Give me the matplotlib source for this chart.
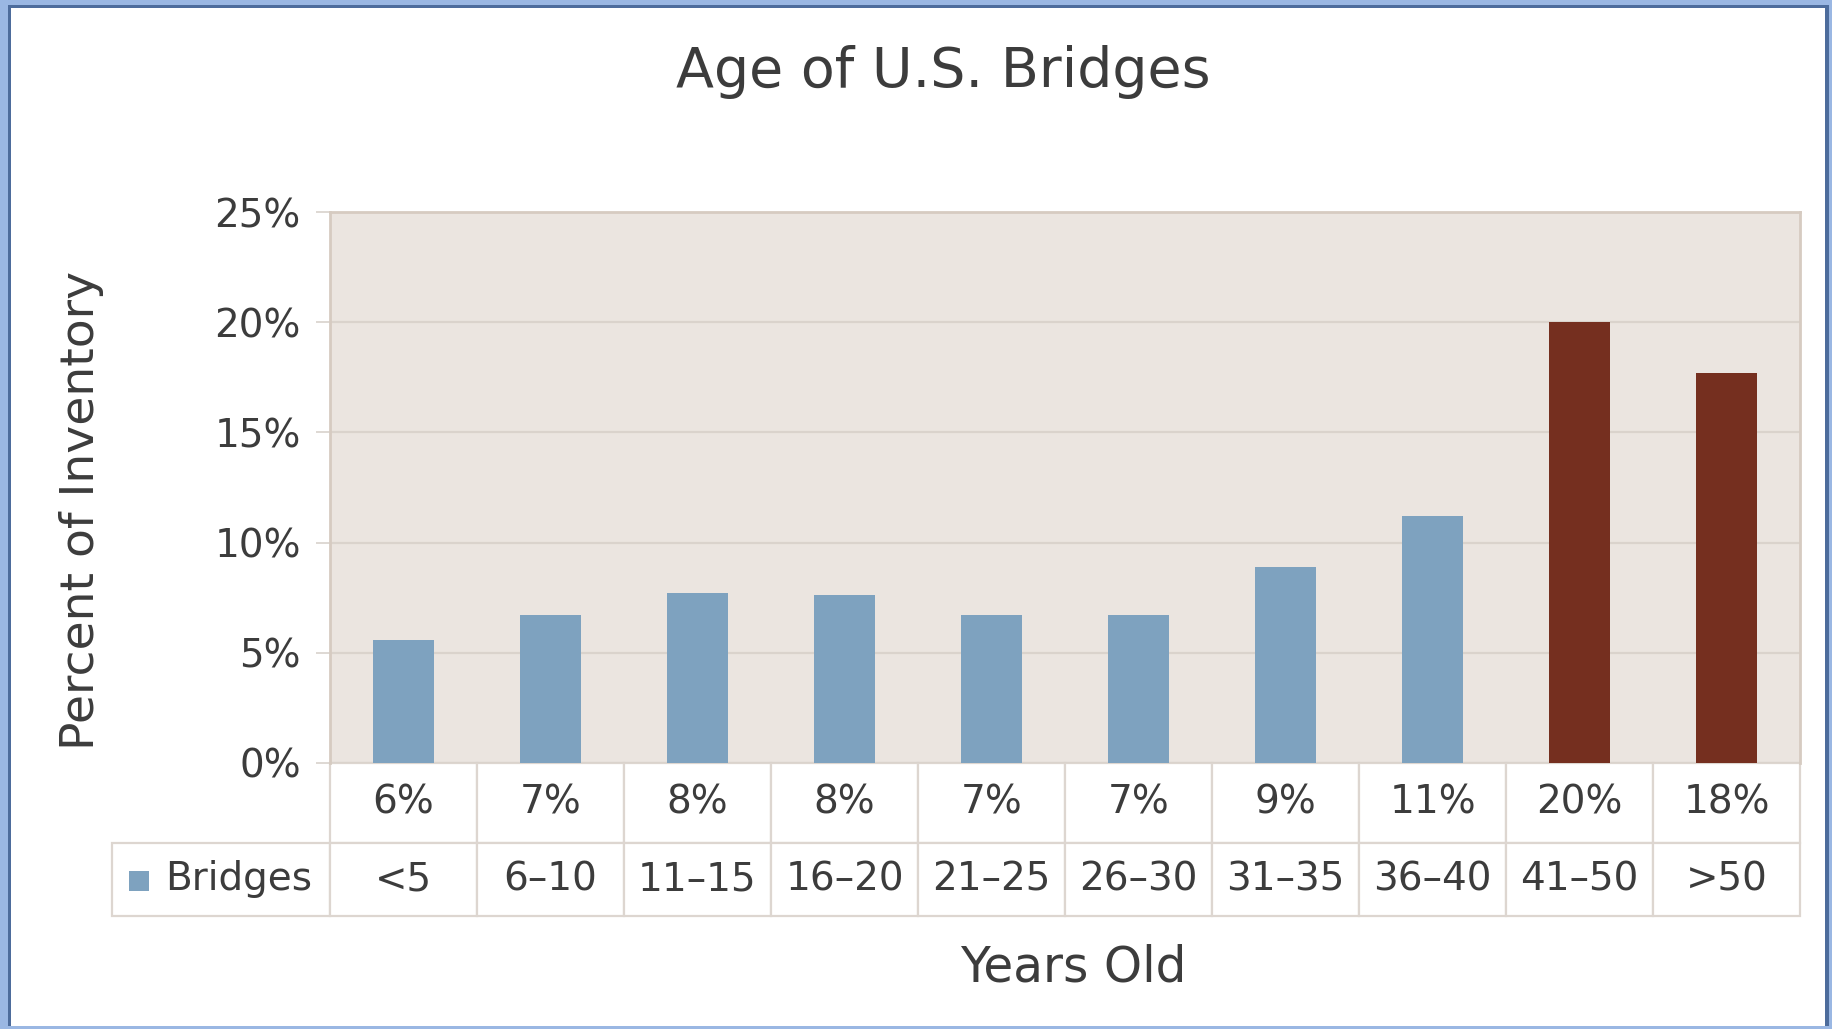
import matplotlib
matplotlib.use("Agg")
import matplotlib.pyplot as plt
from matplotlib.patches import Rectangle

# Share of the U.S. bridge inventory by age bracket (percent)
age_groups = ["<5", "6–10", "11–15", "16–20", "21–25", "26–30",
              "31–35", "36–40", "41–50", ">50"]
share_pct = [5.6, 6.7, 7.7, 7.6, 6.7, 6.7, 8.9, 11.2, 20.0, 17.7]
y_ticks = [0, 5, 10, 15, 20, 25]
series_name = "Bridges"

BLUE = "#7ea2bf"
RUST = "#752f1f"
bar_colors = [BLUE] * 8 + [RUST] * 2
TEXT = "#3c3c3c"
GRID = "#dad3cc"
FRAME = "#d6cbc1"
TABLE_EDGE = "#ddd6d0"

plt.rcParams["font.family"] = ["DejaVu Sans"]

W, H = 1833, 1029
fig = plt.figure(figsize=(W / 100, H / 100), dpi=100, facecolor="white")

# window-style frame around the figure
fig.patches.append(Rectangle((0, 0), 1, 1, transform=fig.transFigure,
                             facecolor="#9ab7e3", edgecolor="none", zorder=-3))
fig.patches.append(Rectangle((8 / W, 3 / H), (1829 - 8) / W, (1024 - 3) / H,
                             transform=fig.transFigure, facecolor="#4d6c9c",
                             edgecolor="none", zorder=-2))
fig.patches.append(Rectangle((11 / W, 3 / H), (1825 - 11) / W, (1021 - 3) / H,
                             transform=fig.transFigure, facecolor="white",
                             edgecolor="none", zorder=-1))

left, right, top, bottom = 330, 1800, 212, 763
ax = fig.add_axes([left / W, 1 - bottom / H, (right - left) / W, (bottom - top) / H])
ax.set_facecolor("#ebe5e0")

x = list(range(len(age_groups)))
ax.bar(x, share_pct, width=0.41, color=bar_colors, edgecolor="none", zorder=3)

ax.set_xlim(-0.5, len(age_groups) - 0.5)
ax.set_ylim(0, 25)
ax.set_yticks(y_ticks)
ax.set_yticklabels([f"{t}%" for t in y_ticks])
ax.set_xticks([])
ax.tick_params(axis="y", length=10, width=1.2, color="#d8d2cc", pad=11,
               labelsize=28, labelcolor=TEXT)
ax.yaxis.grid(True, color=GRID, linewidth=1.6, zorder=1)
ax.set_axisbelow(True)
for side in ("left", "top", "right"):
    ax.spines[side].set_color(FRAME)
    ax.spines[side].set_linewidth(2)
ax.spines["bottom"].set_visible(False)

# data table under the plot: rounded values and age brackets
value_labels = [f"{round(v)}%" for v in share_pct]
row_h = [80 / (bottom - top), 73 / (bottom - top)]
label_w = 215 / (right - left)
tbl = ax.table(cellText=[value_labels, age_groups],
               rowLabels=["", series_name],
               cellLoc="center", rowLoc="left",
               bbox=[0, -(row_h[0] + row_h[1]), 1, row_h[0] + row_h[1]])
tbl.auto_set_font_size(False)
for (r, c), cell in tbl.get_celld().items():
    cell.set_height(row_h[r])
    cell.set_width(label_w if c == -1 else 1 / len(age_groups))
    cell.set_edgecolor(TABLE_EDGE)
    cell.set_linewidth(1.6)
    cell.set_facecolor("white")
    cell.get_text().set_fontsize(28)
    cell.get_text().set_color(TEXT)
    if c == -1:
        cell.PAD = 0.24
        if r == 0:
            cell.set_visible(False)

# series swatch inside the row-label cell
sw_w, sw_h = 20 / (right - left), 20 / (bottom - top)
ax.add_patch(Rectangle((-0.1296 - sw_w / 2, -0.214 - sw_h / 2), sw_w, sw_h,
                       transform=ax.transAxes, facecolor=BLUE, edgecolor="none",
                       clip_on=False, zorder=5))

fig.text(943 / W, 1 - 72 / H, "Age of U.S. Bridges", ha="center", va="center",
         fontsize=40, color=TEXT)
fig.text(82 / W, 1 - 510 / H, "Percent of Inventory", ha="center", va="center",
         rotation=90, fontsize=34, color=TEXT)
fig.text(1073 / W, 1 - 968 / H, "Years Old", ha="center", va="center",
         fontsize=35, color=TEXT)

fig.savefig("out.png", dpi=100, facecolor=fig.get_facecolor())
